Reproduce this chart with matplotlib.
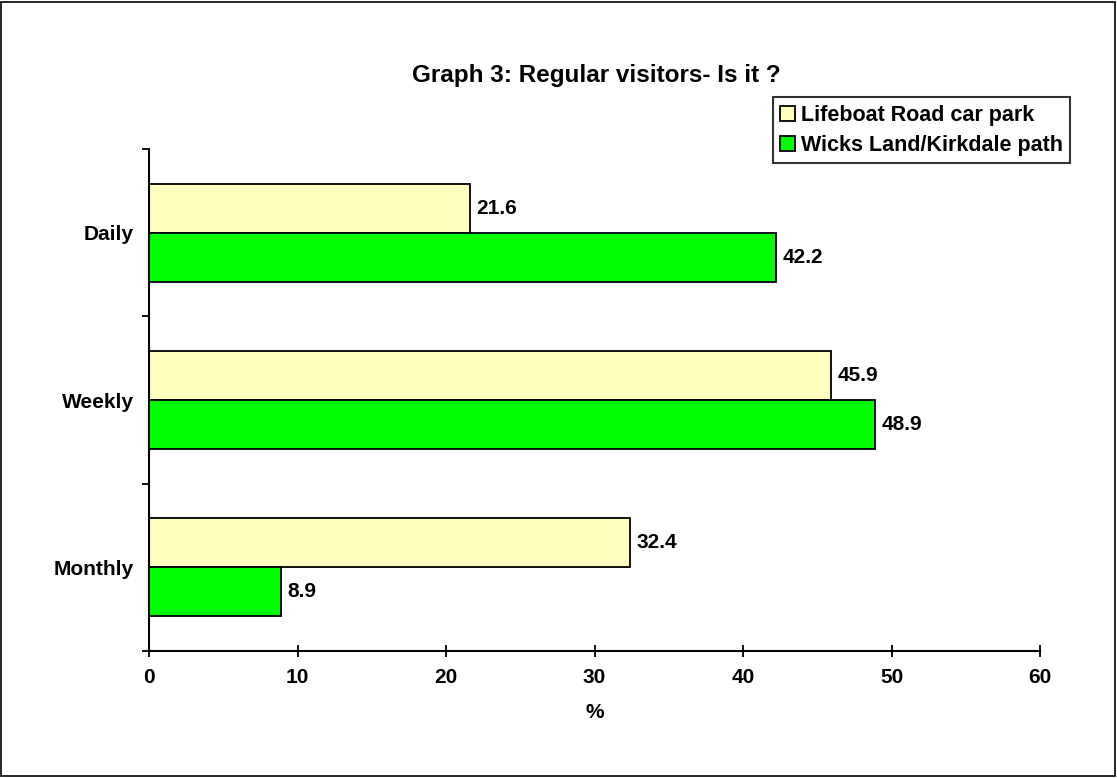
import numpy as np
import matplotlib
matplotlib.use('Agg')
import matplotlib.pyplot as plt
from matplotlib.patches import Rectangle

plt.rcParams['font.family'] = ['Liberation Sans', 'DejaVu Sans']
plt.rcParams['font.weight'] = 'bold'

categories = ['Daily', 'Weekly', 'Monthly']
series_names = ['Lifeboat Road car park', 'Wicks Land/Kirkdale path']
lifeboat = [21.6, 45.9, 32.4]
wicks = [42.2, 48.9, 8.9]
colors = ['#FFFFC0', '#00FF00']

fig = plt.figure(figsize=(11.17, 7.78), dpi=100)
fig.patches.append(Rectangle((0.001, 0.002), 0.997, 0.996, transform=fig.transFigure,
                             fill=False, edgecolor='black', linewidth=1.2))
ax = fig.add_axes([0.1334, 0.1632, 0.7977, 0.6452])

y = np.arange(len(categories))
h = 0.293
b1 = ax.barh(y - h / 2, lifeboat, height=h, color=colors[0], edgecolor='black',
             linewidth=1.3, label=series_names[0])
b2 = ax.barh(y + h / 2, wicks, height=h, color=colors[1], edgecolor='black',
             linewidth=1.3, label=series_names[1])

fs = 15
for bars, vals in [(b1, lifeboat), (b2, wicks)]:
    for bar, v in zip(bars, vals):
        ax.text(v + 0.45, bar.get_y() + bar.get_height() / 2, '%.1f' % v,
                va='center', ha='left', fontsize=fs, fontweight='bold')

ax.set_xlim(0, 60)
ax.set_ylim(2.5, -0.5)
ax.set_xticks(np.arange(0, 61, 10))
ax.set_yticks([-0.5, 0.5, 1.5, 2.5])
ax.set_yticklabels([])
ax.set_yticks(y, minor=True)
ax.set_yticklabels(categories, minor=True, fontsize=fs, fontweight='bold')
ax.tick_params(axis='y', which='minor', length=0, pad=11)
ax.tick_params(axis='y', which='major', length=5, width=1.3, direction='out')
ax.tick_params(axis='x', length=8, width=1.3, direction='inout', labelsize=fs, pad=8)
for lab in ax.get_xticklabels():
    lab.set_fontweight('bold')

for s in ['top', 'right']:
    ax.spines[s].set_visible(False)
for s in ['left', 'bottom']:
    ax.spines[s].set_linewidth(1.5)

ax.set_xlabel('%', fontsize=fs, fontweight='bold', labelpad=12)
fig.text(0.534, 0.903, 'Graph 3: Regular visitors- Is it ?', ha='center', va='center',
         fontsize=17.5, fontweight='bold')

leg = ax.legend(loc='upper right', bbox_to_anchor=(0.958, 0.875),
                bbox_transform=fig.transFigure, fontsize=15.5, frameon=True,
                fancybox=False, handlelength=0.7, handleheight=0.7,
                handletextpad=0.25, borderpad=0.35, labelspacing=0.42,
                borderaxespad=0)
leg.get_frame().set_edgecolor('black')
leg.get_frame().set_linewidth(1.5)
for t in leg.get_texts():
    t.set_fontweight('bold')

fig.savefig('out.png', dpi=100)
